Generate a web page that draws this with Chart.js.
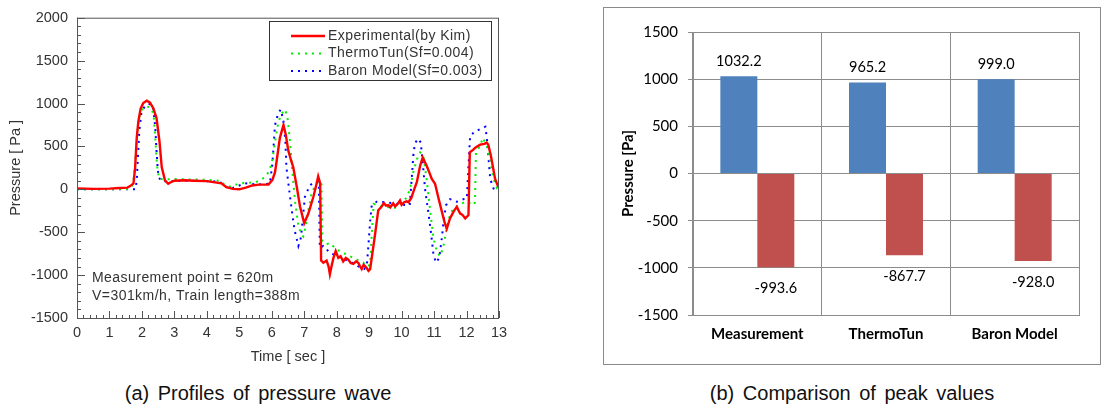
<!DOCTYPE html>
<html>
<head>
<meta charset="utf-8">
<script src="https://cdn.jsdelivr.net/npm/chart.js@4.4.0/dist/chart.umd.min.js"></script>
<style>
  html, body { margin: 0; padding: 0; background: #fff; }
  body { width: 1101px; height: 409px; position: relative; overflow: hidden; font-family: "Liberation Sans", Arial, sans-serif; }
  #waveBox { position: absolute; left: 0; top: 0; width: 520px; height: 380px; }
  #peakBox { position: absolute; left: 603px; top: 7px; width: 496px; height: 356px; border: 1px solid #8a8a8a; }
  .caption { position: absolute; top: 382px; font-size: 20px; color: #111; word-spacing: 3px; white-space: nowrap; transform: translateX(-50%); }
</style>
</head>
<body>
<div id="waveBox"><canvas id="waveChart" width="520" height="380"></canvas></div>
<div id="peakBox"><canvas id="peakChart" width="496" height="356"></canvas></div>
<div class="caption" style="left:258px">(a) Profiles of pressure wave</div>
<div class="caption" style="left:852px">(b) Comparison of peak values</div>

<script>
// --- (a) pressure wave profiles: time [sec], pressure [Pa] ---
const expTime = [0, 0.5, 1.0, 1.3, 1.55, 1.65, 1.74, 1.79, 1.84, 1.89, 1.96, 2.04, 2.15, 2.25, 2.35, 2.45, 2.54, 2.61, 2.71, 2.81, 2.9, 3.0, 3.3, 3.6, 4.0, 4.25, 4.45, 4.6, 4.8, 5.0, 5.2, 5.4, 5.6, 5.9, 6.02, 6.1, 6.15, 6.25, 6.36, 6.43, 6.51, 6.6, 6.66, 6.77, 6.87, 7.0, 7.13, 7.28, 7.38, 7.43, 7.49, 7.52, 7.59, 7.69, 7.75, 7.79, 7.84, 7.9, 7.97, 8.05, 8.12, 8.2, 8.28, 8.36, 8.43, 8.51, 8.6, 8.67, 8.72, 8.77, 8.83, 8.87, 8.93, 8.98, 9.03, 9.08, 9.18, 9.28, 9.38, 9.45, 9.52, 9.59, 9.65, 9.74, 9.8, 9.88, 9.95, 10.0, 10.08, 10.15, 10.21, 10.3, 10.36, 10.47, 10.57, 10.65, 10.77, 10.85, 10.93, 11.03, 11.14, 11.24, 11.32, 11.39, 11.49, 11.6, 11.7, 11.8, 11.88, 11.96, 12.06, 12.1, 12.2, 12.27, 12.42, 12.55, 12.62, 12.67, 12.75, 12.88, 12.98];
const expPa = [10, 5, 8, 15, 20, 40, 70, 250, 600, 790, 940, 1005, 1032, 1010, 945, 830, 560, 260, 105, 65, 85, 100, 105, 100, 95, 80, 70, 25, 5, 0, 20, 45, 55, 55, 110, 200, 330, 600, 750, 640, 450, 330, 260, 30, -200, -395, -280, -90, 65, 150, 70, -830, -855, -830, -900, -990, -900, -800, -720, -800, -780, -840, -800, -820, -860, -870, -840, -860, -900, -930, -880, -895, -920, -950, -930, -800, -530, -245, -205, -160, -190, -185, -210, -165, -200, -170, -130, -180, -150, -140, -150, -100, -30, 85, 275, 370, 275, 200, 120, 65, -110, -260, -380, -460, -340, -260, -205, -280, -300, -340, -300, 430, 460, 485, 520, 530, 545, 520, 390, 120, 25];

const thermoTime = [0, 1.0, 1.6, 1.7, 1.76, 1.82, 1.88, 1.95, 2.05, 2.15, 2.25, 2.33, 2.36, 2.41, 2.44, 2.48, 2.54, 2.7, 3.0, 3.5, 4.0, 4.4, 4.56, 4.75, 4.97, 5.17, 5.5, 5.79, 5.9, 6.0, 6.1, 6.2, 6.3, 6.41, 6.48, 6.55, 6.61, 6.66, 6.72, 6.82, 6.92, 6.97, 7.05, 7.13, 7.22, 7.35, 7.48, 7.53, 7.56, 7.7, 7.79, 7.99, 8.2, 8.51, 8.82, 8.95, 9.03, 9.08, 9.14, 9.3, 9.5, 9.8, 10.0, 10.15, 10.26, 10.36, 10.47, 10.57, 10.67, 10.77, 10.87, 10.98, 11.08, 11.18, 11.28, 11.39, 11.49, 11.6, 11.8, 12.01, 12.22, 12.26, 12.29, 12.42, 12.5, 12.63, 12.73, 12.83, 12.94, 13.0];
const thermoPa = [0, 0, 5, 40, 150, 450, 750, 900, 950, 965, 955, 900, 870, 600, 410, 220, 120, 115, 120, 115, 110, 100, 50, 30, 65, 75, 80, 140, 200, 300, 550, 780, 880, 930, 850, 600, 320, 100, -150, -430, -530, -550, -420, -240, -60, 60, 95, 60, -600, -640, -625, -700, -740, -800, -855, -900, -875, -530, -170, -195, -205, -215, -150, -100, 5, 200, 350, 430, 390, 120, -220, -565, -720, -780, -680, -450, -300, -220, -170, -145, -185, -150, 430, 505, 600, 505, 315, 120, 10, 5];

const baronTime = [0, 1.0, 1.8, 1.84, 1.88, 1.92, 1.98, 2.08, 2.2, 2.28, 2.35, 2.41, 2.45, 2.49, 2.52, 2.6, 3.0, 3.5, 4.0, 4.4, 4.56, 4.8, 5.17, 5.58, 5.94, 6.02, 6.1, 6.2, 6.28, 6.36, 6.42, 6.45, 6.55, 6.63, 6.7, 6.82, 6.9, 7.02, 7.17, 7.3, 7.45, 7.48, 7.59, 7.69, 7.79, 8.0, 8.25, 8.5, 8.72, 8.85, 8.93, 8.98, 9.03, 9.08, 9.23, 9.5, 9.8, 10.0, 10.25, 10.31, 10.36, 10.41, 10.52, 10.59, 10.65, 10.72, 10.82, 10.9, 10.98, 11.06, 11.16, 11.24, 11.29, 11.37, 11.49, 11.7, 11.9, 12.01, 12.06, 12.11, 12.27, 12.42, 12.58, 12.63, 12.68, 12.73, 12.83, 12.95];
const baronPa = [0, 0, 0, 100, 400, 680, 880, 965, 995, 990, 950, 720, 450, 220, 140, 95, 95, 100, 95, 90, 30, 15, 70, 55, 65, 300, 750, 890, 930, 790, 560, 260, -50, -280, -470, -660, -560, -90, 45, 80, 85, -680, -660, -700, -740, -775, -815, -860, -910, -930, -880, -640, -375, -185, -145, -150, -165, -180, -185, 120, 390, 540, 590, 545, 315, 10, -260, -490, -760, -855, -800, -565, -375, -185, -115, -145, -115, -110, 275, 620, 680, 700, 730, 580, 350, 120, 10, -10];

const waveLabels = ['Experimental(by Kim)', 'ThermoTun(Sf=0.004)', 'Baron Model(Sf=0.003)'];
const waveNotes = ['Measurement point = 620m', 'V=301km/h, Train length=388m'];

// --- (b) peak values ---
const peakCategories = ['Measurement', 'ThermoTun', 'Baron Model'];
const peakMax = [1032.2, 965.2, 999.0];
const peakMin = [-993.6, -867.7, -928.0];

const pairs = (xs, ys) => xs.map((x, i) => ({ x: x, y: ys[i] }));
const plainNum = v => String(v);
const arial = 'Liberation Sans, Arial, sans-serif';

// frame, inward ticks, legend box and note text for chart (a)
const waveFrame = {
    id: 'waveFrame',
    afterDraw(chart) {
        const { ctx, chartArea: a, scales: { x, y } } = chart;
        ctx.save();
        ctx.strokeStyle = '#555';
        ctx.lineWidth = 1;
        ctx.strokeRect(a.left + 0.5, a.top + 0.5, a.width - 1, a.height);
        ctx.beginPath();
        ctx.moveTo(a.left + 0.5, a.top); ctx.lineTo(a.left + 0.5, a.bottom + 1);
        ctx.moveTo(a.left, a.bottom + 0.5); ctx.lineTo(a.right, a.bottom + 0.5);
        for (let v = -1500; v <= 2000; v += 100) {
            const py = Math.round(y.getPixelForValue(v)) + 0.5;
            const len = v % 500 === 0 ? 8 : 4;
            ctx.moveTo(a.left, py); ctx.lineTo(a.left + len, py);
        }
        for (let i = 0; i <= 65; i++) {
            const px = Math.round(x.getPixelForValue(i / 5)) + 0.5;
            const len = i % 5 === 0 ? 7 : 3;
            ctx.moveTo(px, a.bottom); ctx.lineTo(px, a.bottom - len);
        }
        ctx.stroke();

        // legend
        ctx.fillStyle = '#fff';
        ctx.fillRect(269, 21, 222, 59);
        ctx.strokeStyle = '#333';
        ctx.strokeRect(269.5, 21.5, 222, 59);
        ctx.font = '14px ' + arial;
        ctx.letterSpacing = '0.45px';
        ctx.textBaseline = 'middle';
        ctx.textAlign = 'left';
        const rowY = [36, 53.5, 71];
        chart.data.datasets.forEach((ds, i) => {
            ctx.beginPath();
            ctx.strokeStyle = ds.borderColor;
            ctx.lineWidth = ds.borderWidth;
            ctx.setLineDash(ds.borderDash || []);
            ctx.moveTo(291, rowY[i]); ctx.lineTo(325, rowY[i]);
            ctx.stroke();
            ctx.setLineDash([]);
            ctx.fillStyle = '#333';
            ctx.fillText(waveLabels[i], 328, rowY[i]);
        });

        // notes
        ctx.font = '14px ' + arial;
        ctx.letterSpacing = '0.45px';
        ctx.fillStyle = '#333';
        ctx.fillText(waveNotes[0], 92, 278);
        ctx.fillText(waveNotes[1], 92, 296);
        ctx.restore();
    }
};

new Chart(document.getElementById('waveChart'), {
    type: 'line',
    data: {
        datasets: [
            { label: waveLabels[0], data: pairs(expTime, expPa), borderColor: '#ff0000', borderWidth: 2.4 },
            { label: waveLabels[1], data: pairs(thermoTime, thermoPa), borderColor: '#00ee00', borderWidth: 2, borderDash: [2, 5] },
            { label: waveLabels[2], data: pairs(baronTime, baronPa), borderColor: '#0000ff', borderWidth: 2, borderDash: [2, 5] }
        ]
    },
    options: {
        responsive: false,
        animation: false,
        elements: { point: { radius: 0 }, line: { tension: 0 } },
        layout: { padding: { top: 13, right: 21, left: 0, bottom: 0 } },
        plugins: { legend: { display: false }, tooltip: { enabled: false } },
        scales: {
            x: {
                type: 'linear', min: 0, max: 13,
                grid: { display: false, drawTicks: false }, border: { display: false },
                ticks: { stepSize: 1, padding: 6, color: '#333', font: { family: arial, size: 14.5 }, callback: plainNum },
                title: { display: true, text: 'Time [ sec ]', color: '#333', font: { family: arial, size: 14.5 }, padding: { top: 0, bottom: 14 } },
                afterFit: s => { s.height = 62; }
            },
            y: {
                min: -1500, max: 2000,
                grid: { display: false, drawTicks: false }, border: { display: false },
                ticks: { stepSize: 500, padding: 9, color: '#333', font: { family: arial, size: 14.5 }, callback: plainNum },
                title: { display: true, text: 'Pressure [ Pa ]', color: '#333', font: { family: arial, size: 14.5 }, padding: { top: 7, bottom: 0 } },
                afterFit: s => { s.width = 77; }
            }
        }
    },
    plugins: [waveFrame]
});

// value labels above / below the bars of chart (b)
const peakLabels = {
    id: 'peakLabels',
    afterDatasetsDraw(chart) {
        const { ctx } = chart;
        ctx.save();
        ctx.font = '14.5px Lato';
        ctx.fillStyle = '#000';
        ctx.textAlign = 'center';
        ctx.textBaseline = 'middle';
        chart.data.datasets.forEach((ds, i) => {
            chart.getDatasetMeta(i).data.forEach((bar, j) => {
                const v = ds.data[j];
                ctx.fillText(v.toFixed(1), bar.x, v >= 0 ? bar.y - 15 : bar.y + 21);
            });
        });
        ctx.restore();
    }
};

new Chart(document.getElementById('peakChart'), {
    type: 'bar',
    data: {
        labels: peakCategories,
        datasets: [
            { label: 'Max', data: peakMax, backgroundColor: '#4f81bd', categoryPercentage: 0.575, barPercentage: 1.0 },
            { label: 'Min', data: peakMin, backgroundColor: '#c0504d', categoryPercentage: 0.575, barPercentage: 1.0 }
        ]
    },
    options: {
        responsive: false,
        animation: false,
        layout: { padding: { top: 24, right: 21, left: 0, bottom: 0 } },
        plugins: { legend: { display: false }, tooltip: { enabled: false } },
        scales: {
            x: {
                grid: { color: '#8c8c8c', drawTicks: false, offset: true },
                border: { color: '#8c8c8c' },
                ticks: { padding: 10, color: '#000', font: { family: 'Lato', size: 15, weight: 'bold' } },
                afterFit: s => { s.height = 49; }
            },
            y: {
                min: -1500, max: 1500,
                grid: { color: '#8c8c8c', tickLength: 5 },
                border: { color: '#8c8c8c' },
                ticks: { stepSize: 500, padding: 10, color: '#000', font: { family: 'Lato', size: 15 }, callback: plainNum },
                title: { display: true, text: 'Pressure [Pa]', color: '#000', font: { family: 'Lato', size: 15, weight: 'bold' }, padding: { top: 15, bottom: 0 } },
                afterFit: s => { s.width = 89; }
            }
        }
    },
    plugins: [peakLabels]
});
</script>
</body>
</html>
